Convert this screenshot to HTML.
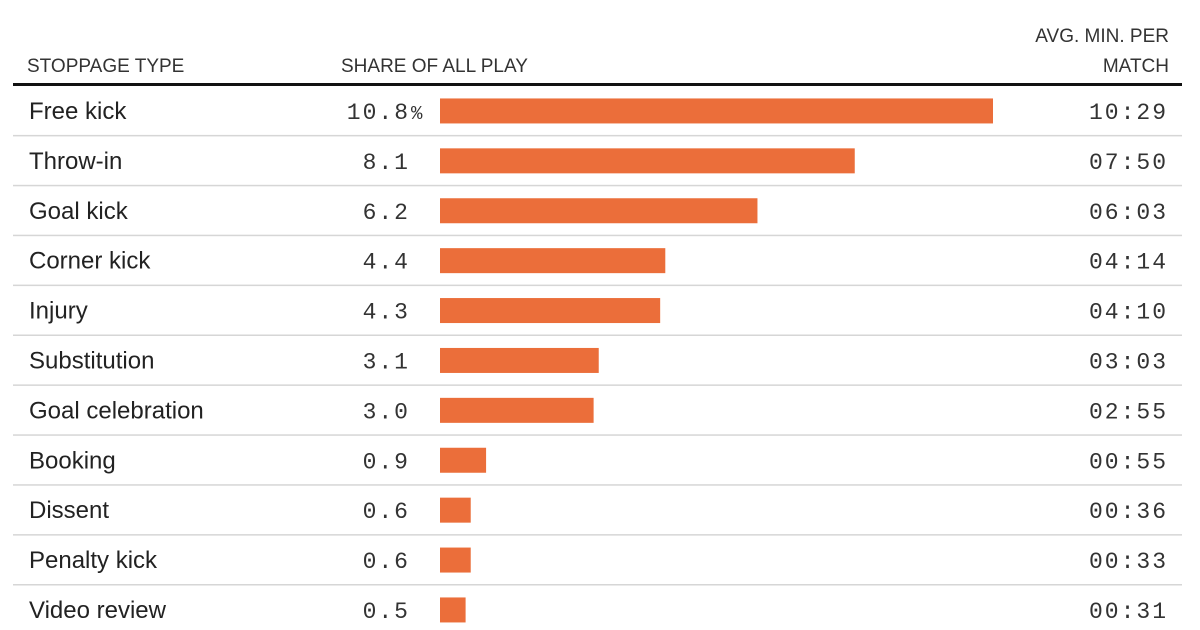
<!DOCTYPE html>
<html><head><meta charset="utf-8"><style>
body{margin:0;background:#fff;}
svg{display:block;}
.lab{font-family:"Liberation Sans",sans-serif;font-size:24px;fill:#222;}
.hd{font-family:"Liberation Sans",sans-serif;font-size:19px;fill:#333;}
.num{font-family:"Liberation Mono",monospace;font-size:23px;fill:#333;letter-spacing:2px;}
</style></head><body>
<svg id="chart" width="1200" height="630" viewBox="0 0 1200 630">
<text class="hd" x="27" y="72">STOPPAGE TYPE</text>
<text class="hd" x="341" y="72">SHARE OF ALL PLAY</text>
<text class="hd" x="1169" y="42" text-anchor="end">AVG. MIN. PER</text>
<text class="hd" x="1169" y="72" text-anchor="end">MATCH</text>
<rect x="13" y="83" width="1169" height="3" fill="#111"/>
<g id="rows"></g>
</svg>
<script>
const categories=["Free kick","Throw-in","Goal kick","Corner kick","Injury","Substitution","Goal celebration","Booking","Dissent","Penalty kick","Video review"];
const shares=[10.8,8.1,6.2,4.4,4.3,3.1,3.0,0.9,0.6,0.6,0.5];
const shareLabels=["10.8","8.1","6.2","4.4","4.3","3.1","3.0","0.9","0.6","0.6","0.5"];
const avgMinutes=["10:29","07:50","06:03","04:14","04:10","03:03","02:55","00:55","00:36","00:33","00:31"];
const NS="http://www.w3.org/2000/svg";
const g=document.getElementById('rows');
const x0=440,pxPerUnit=553/10.8,rowTop=86,rowH=49.9;
function xs(v){return v*pxPerUnit;}
function yRow(i){return rowTop+i*rowH;}
function mk(t,a){const e=document.createElementNS(NS,t);for(const k in a)e.setAttribute(k,a[k]);g.appendChild(e);return e;}
categories.forEach((c,i)=>{
  const y=yRow(i),cy=y+rowH/2;
  if(i<categories.length-1){
    const l=mk('rect',{x:13,y:y+rowH-1,width:1169,height:1.5,fill:'#d6d6d6'});
    
    
  }
  const t=mk('text',{class:'lab',x:29,y:cy+8});t.textContent=c;
  
  
  const v=mk('text',{class:'num',x:410,y:cy+8,'text-anchor':'end'});v.textContent=shareLabels[i];
  
  
  if(i===0){const p=mk('text',{class:'num',x:411,y:cy+8});p.textContent='%';p.style.fontSize='19px';
    
    }
  const b=mk('rect',{x:x0,y:cy-12.5,width:xs(shares[i]),height:25,fill:'#eb6e3a'});
  
  
  const m=mk('text',{class:'num',x:1168,y:cy+8,'text-anchor':'end'});m.textContent=avgMinutes[i];
  
  
});
</script>
</body></html>
